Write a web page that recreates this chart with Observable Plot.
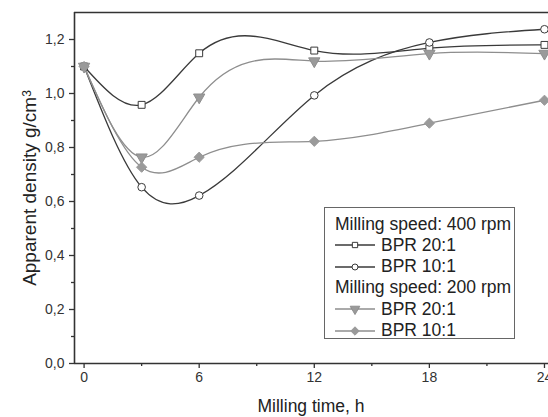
<!DOCTYPE html>
<html><head><meta charset="utf-8">
<script src="https://cdn.jsdelivr.net/npm/d3@7"></script>
<script src="https://cdn.jsdelivr.net/npm/@observablehq/plot@0.6"></script>
<style>
body{margin:0;background:#fff;font-family:"Liberation Sans",Arial,sans-serif;}
#wrap{position:relative;width:548px;height:417px;overflow:hidden;background:#fff;}
#wrap svg{position:absolute;left:0;top:0;}
.ylab{position:absolute;left:30px;top:188px;transform:translate(-50%,-50%) rotate(-90deg);white-space:nowrap;font-size:19px;color:#222;line-height:22px;}
.ylab sup{font-size:12px;position:relative;top:-3px;vertical-align:top;}
.xlab{position:absolute;left:74px;width:474px;top:396px;text-align:center;font-size:17.5px;color:#222;line-height:20px;}
#legend{position:absolute;left:324px;top:207px;width:191px;height:132px;border:1px solid #666;background:#fff;padding:5.5px 0 0 10px;box-sizing:border-box;font-size:17.5px;color:#222;}
#legend .row{height:21.3px;line-height:21.3px;white-space:nowrap;display:flex;align-items:center;}
#legend svg{position:static;margin-right:6px;}
</style></head><body><div id="wrap"></div>
<script>
// ---- data ----
const times = [0, 3, 6, 12, 18, 24];
const dens400_bpr20 = [1.10, 0.958, 1.149, 1.159, 1.168, 1.18];
const dens400_bpr10 = [1.10, 0.653, 0.622, 0.993, 1.189, 1.238];
const dens200_bpr20 = [1.10, 0.764, 0.986, 1.12, 1.148, 1.148];
const dens200_bpr10 = [1.10, 0.727, 0.764, 0.823, 0.89, 0.975];
const xTicks = [0, 6, 12, 18, 24];
const xMinorTicks = [3, 9, 15, 21];
const yTicks = [0, 0.2, 0.4, 0.6, 0.8, 1.0, 1.2];
const yMinorTicks = [0.1, 0.3, 0.5, 0.7, 0.9, 1.1];
const legendHeaders = ["Milling speed: 400 rpm", "Milling speed: 200 rpm"];
const bprLabels = ["BPR 20:1", "BPR 10:1"];
const xTitle = "Milling time, h";
const yTitle = "Apparent density g/cm";

const dark = "#3a3a3a", grey = "#8e8e8e", greyFill = "#9a9a9a";
const series = [
  {group: 0, label: bprLabels[0], values: dens400_bpr20, stroke: dark, symbol: "square", fill: "#fff", mstroke: dark, r: 3.9, rotate: 0},
  {group: 0, label: bprLabels[1], values: dens400_bpr10, stroke: dark, symbol: "circle", fill: "#fff", mstroke: dark, r: 3.8, rotate: 0},
  {group: 1, label: bprLabels[0], values: dens200_bpr20, stroke: grey, symbol: "triangle", fill: greyFill, mstroke: grey, r: 4.2, rotate: 180},
  {group: 1, label: bprLabels[1], values: dens200_bpr10, stroke: grey, symbol: "diamond2", fill: greyFill, mstroke: greyFill, r: 4.6, rotate: 0}
];
const tables = series.map(s => times.map((t, i) => ({t, v: s.values[i]})));

// natural cubic spline as a function of x (like the original plotting software), as a d3 curve
function curveNaturalX(context) {
  let xs, ys;
  return {
    areaStart() {}, areaEnd() {},
    lineStart() { xs = []; ys = []; },
    point(x, y) { xs.push(+x); ys.push(+y); },
    lineEnd() {
      const n = xs.length;
      if (!n) return;
      context.moveTo(xs[0], ys[0]);
      if (n === 1) return;
      if (n === 2) { context.lineTo(xs[1], ys[1]); return; }
      const h = [];
      for (let i = 0; i < n - 1; i++) h.push(xs[i + 1] - xs[i]);
      const M = new Array(n).fill(0);
      const a = [], b = [], c = [], d = [];
      for (let i = 1; i < n - 1; i++) {
        a.push(h[i - 1]); b.push(2 * (h[i - 1] + h[i])); c.push(h[i]);
        d.push(6 * ((ys[i + 1] - ys[i]) / h[i] - (ys[i] - ys[i - 1]) / h[i - 1]));
      }
      const m = b.length;
      for (let i = 1; i < m; i++) {
        const w = a[i] / b[i - 1];
        b[i] -= w * c[i - 1]; d[i] -= w * d[i - 1];
      }
      const sol = new Array(m);
      sol[m - 1] = d[m - 1] / b[m - 1];
      for (let i = m - 2; i >= 0; i--) sol[i] = (d[i] - c[i] * sol[i + 1]) / b[i];
      for (let i = 0; i < m; i++) M[i + 1] = sol[i];
      const slope = [];
      for (let i = 0; i < n - 1; i++) slope.push((ys[i + 1] - ys[i]) / h[i] - h[i] * (2 * M[i] + M[i + 1]) / 6);
      slope.push((ys[n - 1] - ys[n - 2]) / h[n - 2] + h[n - 2] * (M[n - 2] + 2 * M[n - 1]) / 6);
      for (let i = 0; i < n - 1; i++) {
        const dx = h[i] / 3;
        context.bezierCurveTo(xs[i] + dx, ys[i] + slope[i] * dx, xs[i + 1] - dx, ys[i + 1] - slope[i + 1] * dx, xs[i + 1], ys[i + 1]);
      }
    }
  };
}

const xDomain = [-0.5, 24.21];
const yDomain = [0, 1.3];
const fmt = d => d.toFixed(1).replace(".", ",");
const axisColor = "#333";

const marks = [
  Plot.axisX({ticks: xTicks, tickSize: 5, tickPadding: 4, label: null, stroke: axisColor, strokeWidth: 1.3, fill: "#333", fontSize: 14}),
  Plot.axisX({ticks: xMinorTicks, tickSize: 3, tickFormat: () => "", label: null, stroke: axisColor, strokeWidth: 1.3}),
  Plot.axisY({ticks: yTicks, tickSize: 5, tickPadding: 5, tickFormat: fmt, label: null, stroke: axisColor, strokeWidth: 1.3, fill: "#333", fontSize: 14}),
  Plot.axisY({ticks: yMinorTicks, tickSize: 3, tickFormat: () => "", label: null, stroke: axisColor, strokeWidth: 1.3}),
  Plot.ruleX([xDomain[0]], {stroke: axisColor, strokeWidth: 1.6}),
  Plot.ruleY([yDomain[0]], {stroke: axisColor, strokeWidth: 1.6}),
  Plot.ruleY([yDomain[1]], {stroke: axisColor, strokeWidth: 1.6})
];
series.forEach((s, k) => {
  marks.push(Plot.line(tables[k], {x: "t", y: "v", curve: curveNaturalX, stroke: s.stroke, strokeWidth: 1.3}));
});
series.forEach((s, k) => {
  marks.push(Plot.dot(tables[k], {x: "t", y: "v", symbol: () => s.symbol, r: s.r, fill: s.fill, stroke: s.mstroke, strokeWidth: 1, rotate: s.rotate}));
});

const chart = Plot.plot({
  width: 548, height: 417,
  marginLeft: 74, marginTop: 12, marginRight: 0, marginBottom: 54,
  x: {domain: xDomain},
  y: {domain: yDomain},
  symbol: {type: "identity"},
  style: {fontFamily: "'Liberation Sans', Arial, sans-serif", fontSize: "14px", color: "#333", background: "transparent", overflow: "visible"},
  marks
});
const wrap = document.getElementById("wrap");
wrap.appendChild(chart);

const yl = document.createElement("div");
yl.className = "ylab";
yl.innerHTML = yTitle + "<sup>3</sup>";
wrap.appendChild(yl);
const xl = document.createElement("div");
xl.className = "xlab";
xl.textContent = xTitle;
wrap.appendChild(xl);

// legend
const leg = document.createElement("div");
leg.id = "legend";
const symPath = (sym, size) => d3.symbol().type({square: d3.symbolSquare, circle: d3.symbolCircle, triangle: d3.symbolTriangle, diamond2: d3.symbolDiamond2}[sym]).size(size)();
legendHeaders.forEach((h, g) => {
  const hr = document.createElement("div");
  hr.className = "row"; hr.textContent = h;
  leg.appendChild(hr);
  series.filter(s => s.group === g).forEach(s => {
    const r = document.createElement("div");
    r.className = "row";
    const size = s.symbol === "diamond2" ? 45 : s.symbol === "triangle" ? 40 : 28;
    r.innerHTML = `<svg width="40" height="12" viewBox="0 0 40 12"><line x1="0" x2="40" y1="6" y2="6" stroke="${s.stroke}" stroke-width="1.3"/><path transform="translate(20,6) rotate(${s.rotate})" d="${symPath(s.symbol, size)}" fill="${s.fill}" stroke="${s.mstroke}" stroke-width="1"/></svg><span>${s.label}</span>`;
    leg.appendChild(r);
  });
});
wrap.appendChild(leg);
</script></body></html>
